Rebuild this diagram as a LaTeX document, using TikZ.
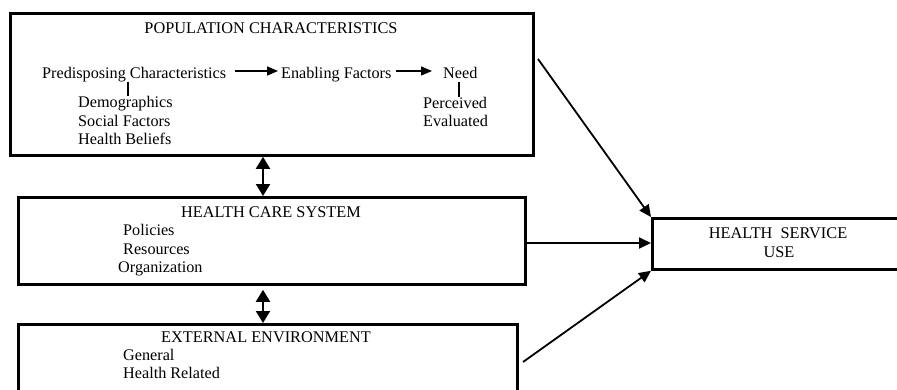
\documentclass[tikz,border=0pt]{standalone}
\usepackage{fontspec}
\setmainfont{Liberation Serif}
\usetikzlibrary{arrows.meta}
\tikzset{
  box/.style={draw, line width=2.8pt, inner sep=0pt, anchor=north west},
  txt/.style={inner sep=0pt, font=\fontsize{16.2}{19}\selectfont},
  head/.style={inner sep=0pt, font=\fontsize{16.3}{19}\selectfont},
  arr/.style={line width=1.8pt, -{Triangle[length=12pt,width=11pt]}},
  dbl/.style={line width=2pt, {Triangle[length=12pt,width=14pt]}-{Triangle[length=12pt,width=14pt]}},
  sarr/.style={line width=1.4pt, -{Triangle[length=11pt,width=9pt]}},
  tickline/.style={line width=1.6pt},
}
\begin{document}
\begin{tikzpicture}[x=1pt,y=-1pt]
\useasboundingbox (0,0) rectangle (897,389);
\clip (0,0) rectangle (897,389);
\fill[white] (0,0) rectangle (897,389);

% boxes
\node[box, minimum width=523pt, minimum height=142pt] (pop) at (9,12) {};
\node[box, minimum width=507pt, minimum height=87pt] (hcs) at (17,196) {};
\node[box, minimum width=499pt, minimum height=90pt] (ext) at (17,323) {};
\node[box, minimum width=280pt, minimum height=51pt] (hsu) at (651,217) {};

% population characteristics
\node[head, anchor=base] (popt) at (271,33) {POPULATION CHARACTERISTICS};
\node[txt, anchor=base west] (pc) at (42,78) {Predisposing Characteristics};
\node[txt, anchor=base west] (ef) at (281,78) {Enabling Factors};
\node[txt, anchor=base west] (nd) at (443,78) {Need};
\node[txt, anchor=base west] (demo) at (78,107) {Demographics};
\node[txt, anchor=base west] (soc) at (78,126) {Social Factors};
\node[txt, anchor=base west] (hb) at (78,144) {Health Beliefs};
\node[txt, anchor=base west] (perc) at (423,108) {Perceived};
\node[txt, anchor=base west] (eval) at (423,126) {Evaluated};

\draw[sarr] ([xshift=9pt,yshift=7pt]pc.base east) -- ([xshift=-3pt,yshift=7pt]ef.base west);
\draw[sarr] ([xshift=4pt,yshift=7pt]ef.base east) -- ([xshift=-11pt,yshift=7pt]nd.base west);
\coordinate (t1) at (128,82);
\coordinate (t2) at (459,82);
\draw[tickline] (t1) -- (demo.north -| t1);
\draw[tickline] (t2) -- (perc.north -| t2);

% health care system
\node[head, anchor=base] (hcst) at (271,217) {HEALTH CARE SYSTEM};
\node[txt, anchor=base west] (pol) at (123,235) {Policies};
\node[txt, anchor=base west] (res) at (123,254) {Resources};
\node[txt, anchor=base west] (org) at (118,272) {Organization};

% external environment
\node[head, anchor=base] (extt) at (266,342) {EXTERNAL ENVIRONMENT};
\node[txt, anchor=base west] (gen) at (123,360) {General};
\node[txt, anchor=base west] (hr) at (123,378) {Health Related};

% health service use
\node[head, anchor=base] (hsut) at (778,238) {HEALTH\hspace{0.5em}SERVICE};
\node[head, anchor=base] (use) at (779,257) {USE};

% connectors
\coordinate (c1) at (263,0);
\draw[dbl] (pop.south -| c1) -- (hcs.north -| c1);
\draw[dbl] ([yshift=-4pt]hcs.south -| c1) -- (ext.north -| c1);

\coordinate (p1) at (538,59);
\coordinate (e1) at (523,362);
\draw[arr] (p1) -- (hsu.north west);
\draw[arr] (hcs.east |- 0,243) -- (hsu.west |- 0,243);
\draw[arr] (e1) -- (hsu.south west);
\end{tikzpicture}
\end{document}
